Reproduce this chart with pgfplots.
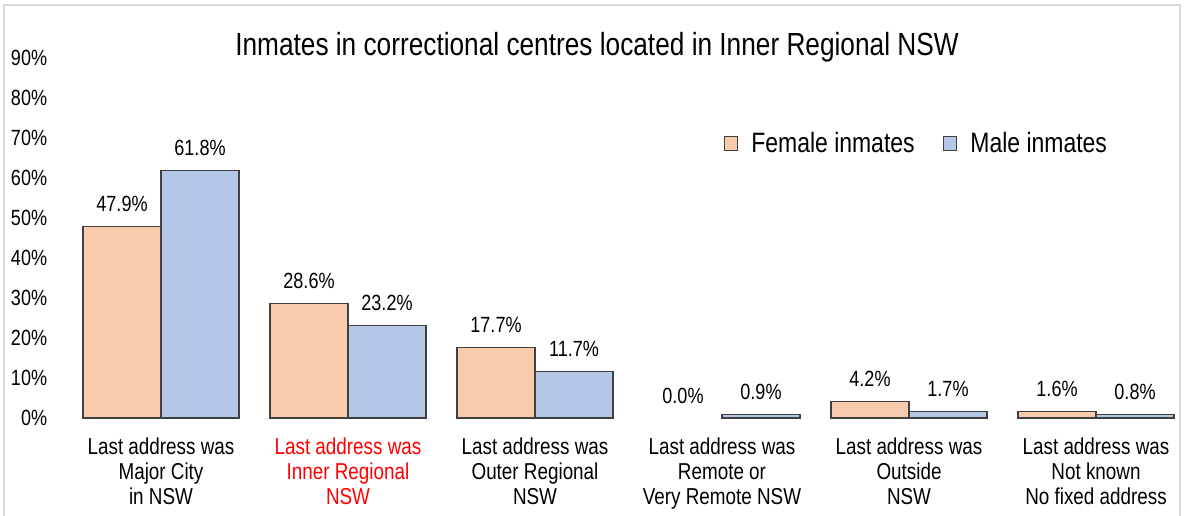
\documentclass[border=0pt]{standalone}
\usepackage{fontspec}
\setmainfont{Liberation Sans}[FakeStretch=0.82]
\usepackage{pgfplots}
\pgfplotsset{compat=1.18}
\definecolor{femalefill}{HTML}{F8CBAD}
\definecolor{malefill}{HTML}{B4C7E7}
\definecolor{barline}{HTML}{404040}
\definecolor{framegrey}{HTML}{D9D9D9}

\begin{document}
\begin{tikzpicture}
\useasboundingbox (-33.75pt,-48.5pt) rectangle (562.25pt,209pt);
\draw[framegrey, line width=1pt] (-31.75pt,-60pt) -- (-31.75pt,206.5pt) -- (556.25pt,206.5pt) -- (556.25pt,-60pt);
\begin{axis}[
	at={(0pt,0pt)}, anchor=south west,
	scale only axis,
	width=561pt, height=180pt,
	ybar=0pt, bar width=39pt,
	xmin=-0.5, xmax=5.5,
	ymin=0, ymax=90,
	ytick={0,10,...,90},
	axis line style={draw=none},
	major tick length=0pt,
	/pgf/number format/assume math mode=true,
	yticklabel={\pgfmathprintnumber{\tick}\%},
	yticklabel style={font=\fontsize{11}{12}\selectfont, inner sep=0pt, anchor=east, xshift=-10pt},
	xtick={0,...,5},
	xticklabels={
		{Last address was\\Major City\\in NSW},
		{\textcolor{red}{Last address was}\\\textcolor{red}{Inner Regional}\\\textcolor{red}{NSW}},
		{Last address was\\Outer Regional\\NSW},
		{Last address was\\Remote or\\Very Remote NSW},
		{Last address was\\Outside\\NSW},
		{Last address was\\Not known\\No fixed address}},
	xticklabel style={font=\fontsize{11.5}{12.5}\selectfont, align=center, anchor=north, inner sep=0pt, yshift=-9.5pt},
	nodes near coords={\pgfmathprintnumber[fixed,fixed zerofill,precision=1]{\pgfplotspointmeta}\%},
	every node near coord/.append style={font=\fontsize{11}{12}\selectfont, anchor=base, inner sep=0pt, yshift=7.5pt, black},
	legend style={draw=none, fill=none, at={(0.579,0.762)}, anchor=west,
		legend columns=2, font=\fontsize{14}{16}\selectfont,
		/tikz/every odd column/.append style={column sep=4.5pt},
		/tikz/every even column/.append style={column sep=12pt}},
	legend image code/.code={\draw[#1, line width=0.6pt] (0pt,-3.4pt) rectangle (6.8pt,3.4pt);},
	legend cell align=left,
]
\addplot[fill=femalefill, draw=barline, line width=0.6pt, bar shift=-19.5pt] coordinates {(0,47.9) (1,28.6) (2,17.7) (4,4.2) (5,1.6)};
\addplot[fill=malefill, draw=barline, line width=0.6pt, bar shift=19.5pt] coordinates {(0,61.8) (1,23.2) (2,11.7) (3,0.9) (4,1.7) (5,0.8)};
\addplot[draw=none, fill=none, bar shift=-19.5pt, forget plot] coordinates {(3,0.0)};
\legend{Female inmates, Male inmates}
\end{axis}
\node[font=\fontsize{16}{18}\selectfont] at (264.75pt,185.5pt) {Inmates in correctional centres located in Inner Regional NSW};
\end{tikzpicture}
\end{document}
